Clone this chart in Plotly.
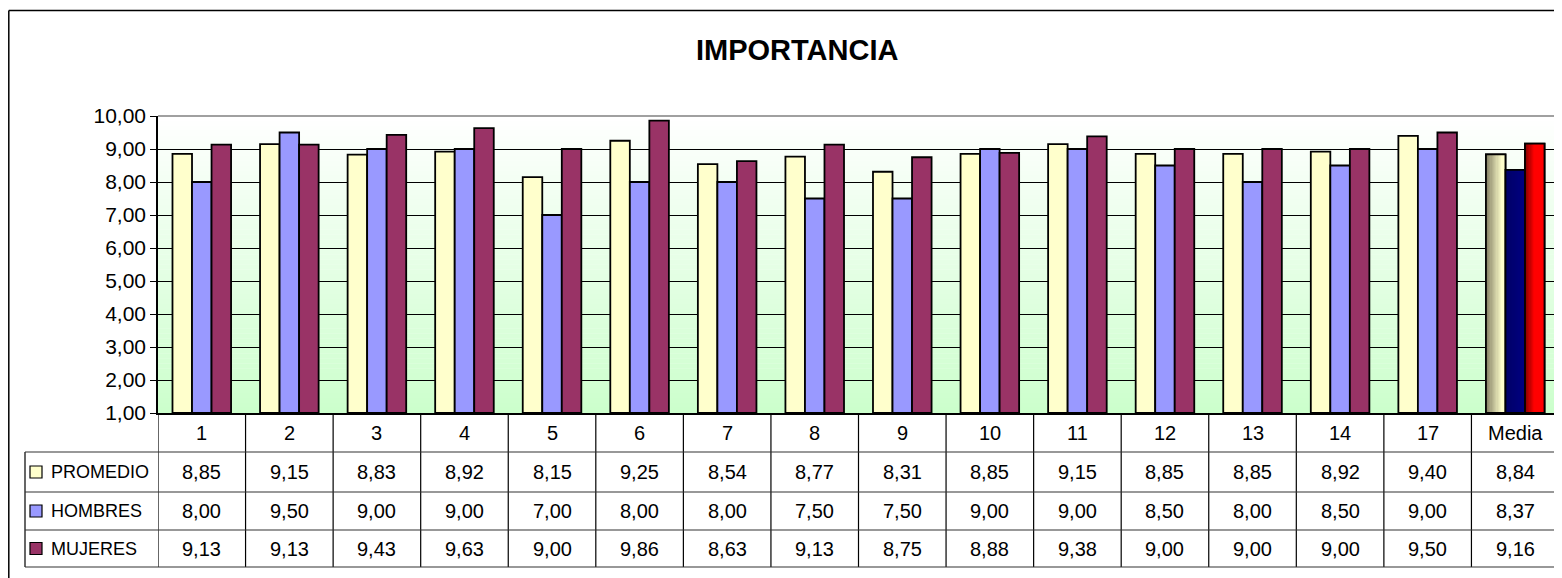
import plotly.graph_objects as go

categories = ["1", "2", "3", "4", "5", "6", "7", "8", "9", "10", "11", "12", "13", "14", "17", "Media"]
promedio = [8.85, 9.15, 8.83, 8.92, 8.15, 9.25, 8.54, 8.77, 8.31, 8.85, 9.15, 8.85, 8.85, 8.92, 9.40, 8.84]
hombres = [8.00, 9.50, 9.00, 9.00, 7.00, 8.00, 8.00, 7.50, 7.50, 9.00, 9.00, 8.50, 8.00, 8.50, 9.00, 8.37]
mujeres = [9.13, 9.13, 9.43, 9.63, 9.00, 9.86, 8.63, 9.13, 8.75, 8.88, 9.38, 9.00, 9.00, 9.00, 9.50, 9.16]
series_names = ["PROMEDIO", "HOMBRES", "MUJERES"]
series_colors = ["#FFFFCC", "#9999FF", "#993366"]
title_text = "IMPORTANCIA"
y_ticks = [1, 2, 3, 4, 5, 6, 7, 8, 9, 10]

# page offset caused by default body margin
OX, OY = 8, 8
W, H = 1554, 570
PX_L, PX_R = 158, 1559
PX_T, PX_B = 116, 413
ROW_Y = [413, 452, 492, 530, 567]
FONT = "Arial, Liberation Sans, sans-serif"


def py(p):
    return 1 - (p - OY) / H


def px(p):
    return (p - OX) / W


def fmt(v):
    return f"{v:.2f}".replace(".", ",")


def lerp(c1, c2, t):
    return "rgb(%d,%d,%d)" % tuple(int(round(a + (b - a) * t)) for a, b in zip(c1, c2))


BW = 0.223
offsets = [-1.5 * BW, -0.5 * BW, 0.5 * BW]
all_series = [promedio, hombres, mujeres]

fig = go.Figure()

# main bars
for s, name, col, off in zip(all_series, series_names, series_colors, offsets):
    fig.add_trace(go.Bar(
        x=categories, y=[v - 1 for v in s], base=1, name=name,
        width=BW, offset=off,
        marker=dict(color=col, line=dict(color="black", width=1.8)),
        showlegend=False, hoverinfo="skip",
    ))

# gradient fills for the Media bars
N = 16
grad = [((128, 124, 96), (255, 255, 204), 0.85), ((0, 0, 102), (0, 0, 128), 1.0), ((128, 0, 0), (255, 0, 0), 0.5)]
mi = len(categories) - 1
for s, off, (c1, c2, reach) in zip(all_series, offsets, grad):
    v = s[mi]
    cols = [lerp(c1, c2, min(1.0, (k + 0.5) / N / reach)) for k in range(N)]
    fig.add_trace(go.Bar(
        x=[categories[mi]] * N, y=[v - 1] * N, base=1,
        width=[BW / N * 1.05] * N, offset=[off + k * BW / N for k in range(N)],
        marker=dict(color=cols, line=dict(width=0)),
        showlegend=False, hoverinfo="skip",
    ))
    fig.add_trace(go.Bar(
        x=[categories[mi]], y=[v - 1], base=1, width=BW, offset=off,
        marker=dict(color="rgba(0,0,0,0)", line=dict(color="black", width=1.8)),
        showlegend=False, hoverinfo="skip",
    ))

shapes = []
# gradient background of plot area
NS = 60
for i in range(NS):
    t0 = i / NS
    t1 = (i + 1) / NS
    y0 = PX_T + (PX_B - PX_T) * t0
    y1 = PX_T + (PX_B - PX_T) * t1
    shapes.append(dict(type="rect", xref="paper", yref="paper", x0=px(PX_L), x1=px(PX_R),
                       y0=py(y1), y1=py(y0) + 0.0005, line=dict(width=0),
                       fillcolor=lerp((255, 255, 255), (204, 255, 204), (t0 + t1) / 2), layer="below"))
# plot area top/right border
shapes.append(dict(type="line", xref="paper", yref="paper", x0=px(PX_L), x1=px(PX_R), y0=py(PX_T), y1=py(PX_T),
                   line=dict(color="#808080", width=1.5), layer="above"))
shapes.append(dict(type="line", xref="paper", yref="paper", x0=px(PX_R), x1=px(PX_R), y0=py(PX_T), y1=py(PX_B),
                   line=dict(color="#808080", width=1.5), layer="above"))
# outer chart frame
shapes.append(dict(type="line", xref="paper", yref="paper", x0=px(8.8), x1=1, y0=py(10.5), y1=py(10.5),
                   line=dict(color="black", width=1.5)))
shapes.append(dict(type="line", xref="paper", yref="paper", x0=px(8.8), x1=px(8.8), y0=py(10.5), y1=0,
                   line=dict(color="black", width=1.5)))
# table grid
for i in range(len(categories) + 1):
    shapes.append(dict(type="line", xref="x", yref="paper", x0=i - 0.5, x1=i - 0.5,
                       y0=py(ROW_Y[0]), y1=py(ROW_Y[-1]), line=dict(color="black", width=1.2)))
shapes.append(dict(type="line", xref="paper", yref="paper", x0=px(25), x1=px(25),
                   y0=py(ROW_Y[1]), y1=py(ROW_Y[-1]), line=dict(color="black", width=1.2)))
for r in ROW_Y[1:]:
    shapes.append(dict(type="line", xref="paper", yref="paper", x0=px(25), x1=px(PX_R + 1),
                       y0=py(r), y1=py(r), line=dict(color="#333333", width=1.2)))

annotations = [dict(text="<b>%s</b>" % title_text, x=px(797), y=py(50), xref="paper", yref="paper",
                    showarrow=False, font=dict(family=FONT, size=29, color="black"),
                    xanchor="center", yanchor="middle")]
# category row
for i, c in enumerate(categories):
    annotations.append(dict(text=c, x=i, y=py((ROW_Y[0] + ROW_Y[1]) / 2), xref="x", yref="paper",
                            showarrow=False, font=dict(family=FONT, size=20, color="black"),
                            xanchor="center", yanchor="middle"))
# value rows
for r, (s, name, col) in enumerate(zip(all_series, series_names, series_colors)):
    yc = (ROW_Y[r + 1] + ROW_Y[r + 2]) / 2
    for i, v in enumerate(s):
        annotations.append(dict(text=fmt(v), x=i, y=py(yc), xref="x", yref="paper",
                                showarrow=False, font=dict(family=FONT, size=20, color="black"),
                                xanchor="center", yanchor="middle"))
    annotations.append(dict(text=name, x=px(49), y=py(yc), xref="paper", yref="paper",
                            showarrow=False, font=dict(family=FONT, size=18, color="black"),
                            xanchor="left", yanchor="middle"))
    shapes.append(dict(type="rect", xref="paper", yref="paper", x0=px(30), x1=px(42),
                       y0=py(yc + 6), y1=py(yc - 6), fillcolor=col, line=dict(color="black", width=1.2)))

fig.update_layout(
    width=W, height=H, autosize=False,
    margin=dict(l=0, r=0, t=0, b=0, pad=0, autoexpand=False),
    paper_bgcolor="white", plot_bgcolor="rgba(0,0,0,0)",
    barmode="overlay", separators=",.",
    shapes=shapes, annotations=annotations,
    xaxis=dict(domain=[px(PX_L), px(PX_R)], range=[-0.5, len(categories) - 0.5],
               type="category", showticklabels=False, ticks="", showgrid=False, automargin=False,
               showline=True, linecolor="black", linewidth=1.5, zeroline=False, fixedrange=True),
    yaxis=dict(domain=[py(PX_B), py(PX_T)], range=[1, 10], tickvals=y_ticks, tickformat=".2f",
               ticks="outside", ticklen=6, tickcolor="black", tickwidth=1, automargin=False,
               showgrid=True, gridcolor="black", gridwidth=1,
               showline=True, linecolor="black", linewidth=1.5, zeroline=False,
               tickfont=dict(family=FONT, size=21, color="black"), fixedrange=True),
    showlegend=False,
)

fig.write_html("out.html")
